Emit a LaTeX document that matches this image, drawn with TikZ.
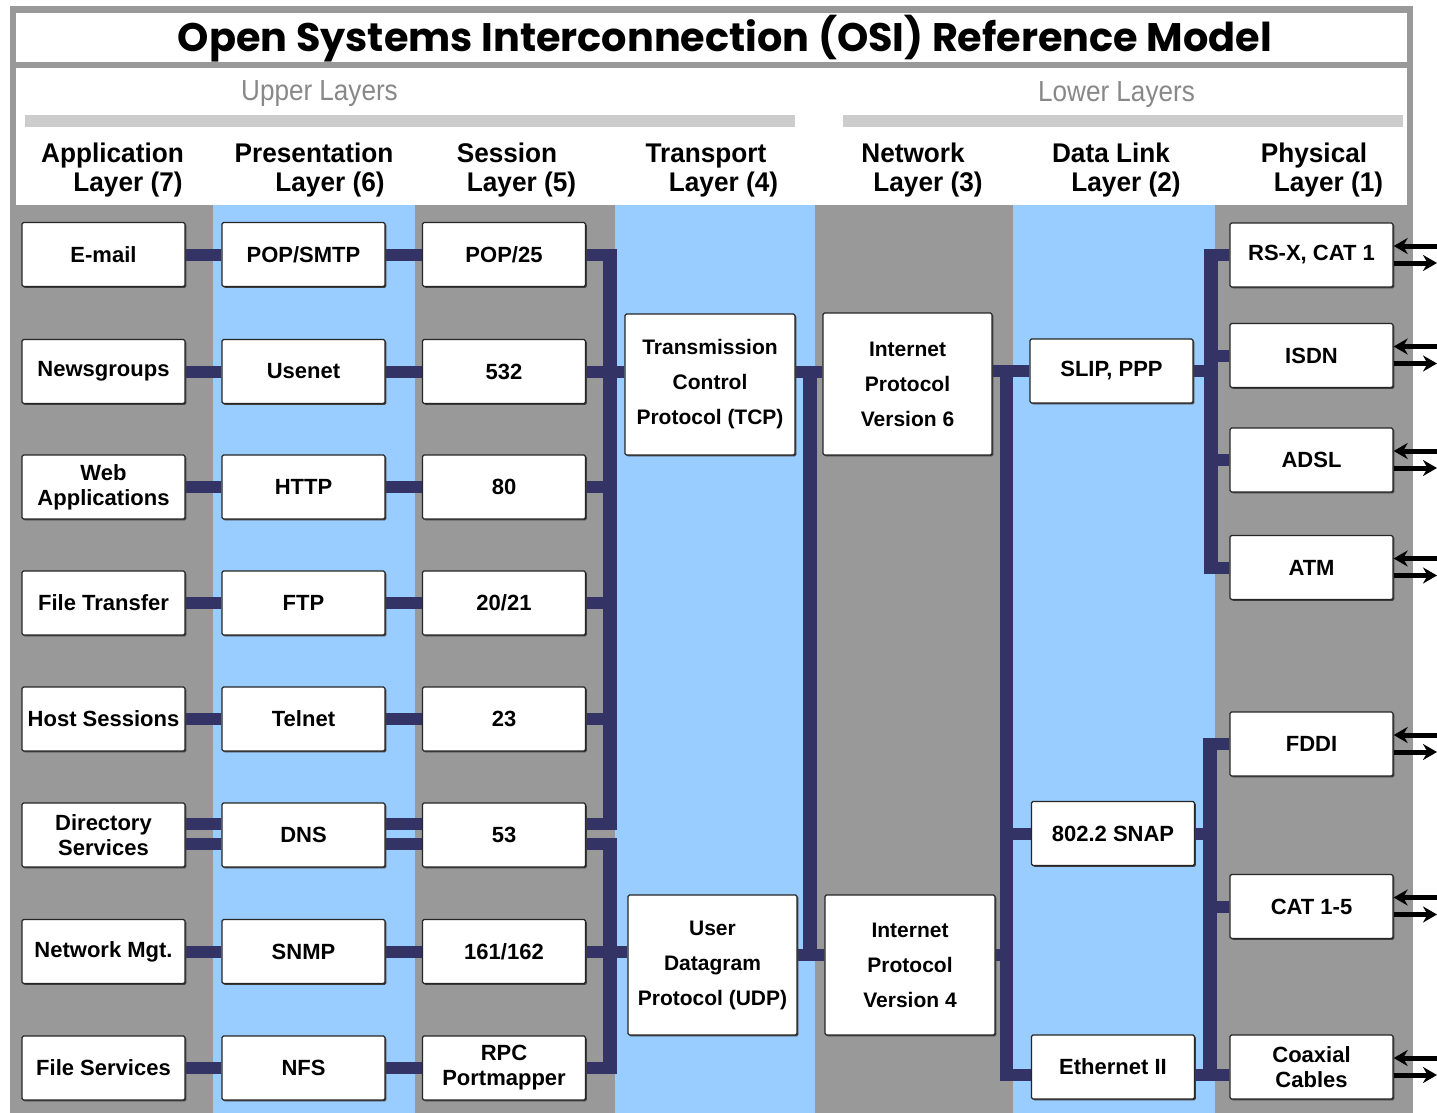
\documentclass[tikz,border=0pt]{standalone}
\usepackage{fontspec}
\usepackage{graphicx}
\setmainfont{Liberation Sans}
\newfontfamily\titlefont{Poppins}
\usetikzlibrary{arrows.meta,shadows}
\definecolor{colgray}{HTML}{999999}
\definecolor{colblue}{HTML}{99CCFF}
\definecolor{busnavy}{HTML}{333366}
\definecolor{bargray}{HTML}{CCCCCC}
\definecolor{lblgray}{HTML}{888888}
\pgfdeclarelayer{bg}
\pgfsetlayers{bg,main}
\tikzset{
  box/.style={draw=black!85, line width=1.3pt, fill=white, rounded corners=1.5pt,
    minimum width=163pt, minimum height=64pt, inner sep=0pt,
    font=\fontsize{22}{25}\selectfont\bfseries, align=center,
    general shadow={fill=black!75, shadow xshift=1.3pt, shadow yshift=-1.3pt}},
  bigbox/.style={box, minimum width=170pt, minimum height=141pt,
    font=\fontsize{21}{35}\selectfont\bfseries},
  bus/.style={draw=busnavy, line width=12pt, line cap=butt},
  vbus/.style={draw=busnavy, line width=14pt, line cap=butt},
  hdr/.style={font=\fontsize{27}{27}\selectfont\bfseries, inner sep=0pt, anchor=base},
  grouplbl/.style={font=\fontsize{29}{29}\selectfont, text=lblgray, inner sep=0pt, anchor=base},
  io/.style={draw=black, line width=5pt, -{Stealth[length=14pt,width=16pt]}},
}
\newcommand\cnd[1]{\scalebox{0.9}[1]{#1}}
\newcommand\hcnd[1]{\scalebox{0.97}[1]{#1}}
\begin{document}
\begin{tikzpicture}[x=1pt,y=-1pt]
\useasboundingbox (0,0) rectangle (1437,1113);
% ---------- boxes ----------
\node[box] (a1) at (103.5,254.5) {E-mail};
\node[box] (a2) at (103.5,371.5) {Newsgroups};
\node[box] (a3) at (103.5,487) {Web\\Applications};
\node[box] (a4) at (103.5,603) {File Transfer};
\node[box] (a5) at (103.5,719) {Host Sessions};
\node[box] (a6) at (103.5,835) {Directory\\Services};
\node[box] (a7) at (103.5,951.5) {Network Mgt.};
\node[box] (a8) at (103.5,1068) {File Services};

\node[box] (p1) at (303.5,254.5) {POP/SMTP};
\node[box] (p2) at (303.5,371.5) {Usenet};
\node[box] (p3) at (303.5,487) {HTTP};
\node[box] (p4) at (303.5,603) {FTP};
\node[box] (p5) at (303.5,719) {Telnet};
\node[box] (p6) at (303.5,835) {DNS};
\node[box] (p7) at (303.5,951.5) {SNMP};
\node[box] (p8) at (303.5,1068) {NFS};

\node[box] (s1) at (504,254.5) {POP/25};
\node[box] (s2) at (504,371.5) {532};
\node[box] (s3) at (504,487) {80};
\node[box] (s4) at (504,603) {20/21};
\node[box] (s5) at (504,719) {23};
\node[box] (s6) at (504,835) {53};
\node[box] (s7) at (504,951.5) {161/162};
\node[box] (s8) at (504,1068) {RPC\\Portmapper};

\node[bigbox] (tcp) at (710,384.5) {Transmission\\Control\\Protocol (TCP)};
\node[bigbox, minimum width=169pt, minimum height=140pt] (udp) at (712.5,965) {User\\Datagram\\Protocol (UDP)};
\node[bigbox, minimum width=169pt, minimum height=142pt] (ip6) at (907.5,384) {Internet\\Protocol\\Version 6};
\node[bigbox, minimum height=140pt] (ip4) at (910,965) {Internet\\Protocol\\Version 4};

\node[box] (slip) at (1111.5,371) {SLIP, PPP};
\node[box] (snap) at (1113,833.5) {802.2 SNAP};
\node[box] (eth) at (1113,1067) {Ethernet II};

\node[box] (ph1) at (1311.5,255) {RS-X, CAT 1};
\node[box] (ph2) at (1311.5,355.5) {ISDN};
\node[box] (ph3) at (1311.5,460) {ADSL};
\node[box] (ph4) at (1311.5,567.5) {ATM};
\node[box] (ph5) at (1311.5,744) {FDDI};
\node[box] (ph6) at (1311.5,906.5) {CAT 1-5};
\node[box] (ph7) at (1311.5,1067) {Coaxial\\Cables};

% ---------- titles ----------
\node[inner sep=0pt, anchor=base] (title) at (725,52)
  {\resizebox{1094pt}{!}{\titlefont\bfseries Open Systems Interconnection (OSI) Reference Model}};
\node[grouplbl] (upper) at (319.5,101) {\cnd{Upper Layers}};
\node[grouplbl] (lower) at (1116.5,102) {\cnd{Lower Layers}};

\node[hdr] (h7a) at (112.5,162) {\hcnd{Application}};
\node[hdr] (h7b) at (128,191) {\hcnd{Layer (7)}};
\node[hdr] (h6a) at (314,162) {\hcnd{Presentation}};
\node[hdr] (h6b) at (330,191) {\hcnd{Layer (6)}};
\node[hdr] (h5a) at (507,162) {\hcnd{Session}};
\node[hdr] (h5b) at (521.5,191) {\hcnd{Layer (5)}};
\node[hdr] (h4a) at (706,162) {\hcnd{Transport}};
\node[hdr] (h4b) at (723.5,191) {\hcnd{Layer (4)}};
\node[hdr] (h3a) at (913,162) {\hcnd{Network}};
\node[hdr] (h3b) at (928,191) {\hcnd{Layer (3)}};
\node[hdr] (h2a) at (1111,162) {\hcnd{Data Link}};
\node[hdr] (h2b) at (1126,191) {\hcnd{Layer (2)}};
\node[hdr] (h1a) at (1314,162) {\hcnd{Physical}};
\node[hdr] (h1b) at (1328.5,191) {\hcnd{Layer (1)}};

% ---------- helper coordinates ----------
\coordinate (tb) at (610,0);
\coordinate (nb) at (810,0);
\coordinate (db) at (1006.5,0);
\coordinate (pb) at (1211,0);
\coordinate (pb2) at (1209.5,0);
\coordinate (ethrow) at (0,1075);
\coordinate (edge) at (1437,0);

% ---------- background layer ----------
\begin{pgfonlayer}{bg}
  \fill[white] (0,0) rectangle (1437,1113);
  \fill[colgray] (10,6) rectangle (1413,1113);
  \fill[white] (16,13) rectangle (1407,62);
  \fill[white] (16,68) rectangle (1407,205);
  \fill[bargray] (25,115) rectangle (795,127);
  \fill[bargray] (843,115) rectangle (1403,127);
  \fill[colblue] (213,205) rectangle (415,1113);
  \fill[colblue] (615,205) rectangle (815,1113);
  \fill[colblue] (1013,205) rectangle (1215,1113);

  % application - presentation - session
  \foreach \i in {1,2,3,4,5,7,8} {
    \draw[bus] (a\i.east) -- (p\i.west);
    \draw[bus] (p\i.east) -- (s\i.west);
  }
  \draw[bus] ([yshift=11pt]a6.east) -- ([yshift=11pt]p6.west);
  \draw[bus] ([yshift=-9pt]a6.east) -- ([yshift=-9pt]p6.west);
  \draw[bus] ([yshift=11pt]p6.east) -- ([yshift=11pt]s6.west);
  \draw[bus] ([yshift=-9pt]p6.east) -- ([yshift=-9pt]s6.west);

  % session - TCP bus
  \foreach \i in {1,3,4,5} {
    \draw[bus] (s\i.east) -- (s\i.east -| tb);
  }
  \draw[bus] (s2.east) -- (tcp.west |- s2.east);
  \draw[bus] ([yshift=11pt]s6.east) -- ([yshift=11pt]s6.east -| tb);
  \draw[vbus] ([yshift=6pt]s1.east -| tb) -- ([yshift=5pt]s6.east -| tb);

  % session - UDP bus
  \draw[bus] ([yshift=-9pt]s6.east) -- ([yshift=-9pt]s6.east -| tb);
  \draw[bus] (s7.east) -- (udp.west |- s7.east);
  \draw[bus] (s8.east) -- (s8.east -| tb);
  \draw[vbus] ([yshift=-3pt]s6.east -| tb) -- ([yshift=-6pt]s8.east -| tb);

  % transport - network
  \draw[bus] (tcp.east |- s2.east) -- (ip6.west |- s2.east);
  \draw[bus] ([yshift=-3pt]udp.east |- s7.east) -- ([yshift=-3pt]ip4.west |- s7.east);
  \draw[vbus] ([yshift=6pt]s2.east -| nb) -- ([yshift=-9pt]s7.east -| nb);

  % network - data link
  \draw[bus] (ip6.east |- slip.west) -- (slip.west);
  \draw[bus] ([yshift=-3pt]ip4.east |- s7.east) -- ([yshift=-3pt]s7.east -| db);
  \draw[bus] (snap.west -| db) -- (snap.west);
  \draw[bus] (ethrow -| db) -- (eth.west |- ethrow);
  \draw[draw=busnavy, line width=13pt] ([yshift=6pt]slip.west -| db) -- ([yshift=-6pt]ethrow -| db);

  % data link - physical (upper)
  \draw[bus] (slip.east) -- (slip.east -| pb);
  \foreach \n in {ph1,ph2,ph3,ph4} {
    \draw[bus] (\n.west -| pb) -- (\n.west);
  }
  \draw[vbus] ([yshift=6pt]ph1.west -| pb) -- ([yshift=-6pt]ph4.west -| pb);

  % data link - physical (lower)
  \draw[bus] (snap.east) -- (snap.east -| pb2);
  \draw[bus] (ph5.west -| pb2) -- (ph5.west);
  \draw[bus] (ph6.west -| pb2) -- (ph6.west);
  \draw[bus] (eth.east |- ethrow) -- (ph7.west |- ethrow);
  \draw[vbus] ([yshift=6pt]ph5.west -| pb2) -- ([yshift=-6pt]ethrow -| pb2);
\end{pgfonlayer}

% ---------- physical in/out arrows ----------
\foreach \n in {ph1,ph2,ph3,ph4,ph5,ph6,ph7} {
  \draw[io] ([yshift=9pt]\n.east -| edge) -- ([yshift=9pt]\n.east);
  \draw[io] ([yshift=-8pt]\n.east) -- ([yshift=-8pt]\n.east -| edge);
}
\end{tikzpicture}
\end{document}
